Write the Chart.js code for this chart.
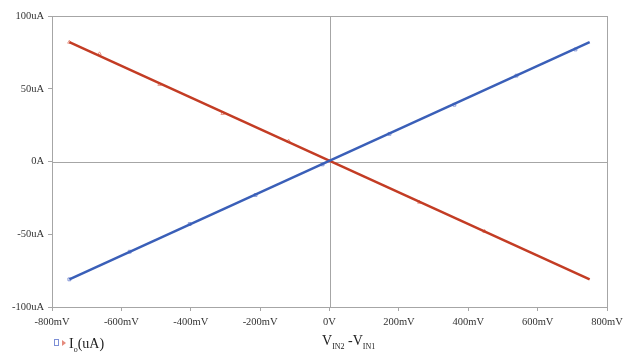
<!DOCTYPE html>
<html>
<head>
<meta charset="utf-8">
<script src="https://cdn.jsdelivr.net/npm/chart.js@4"></script>
<style>
  body { margin: 0; background: #fff; }
  #wrap { position: relative; width: 623px; height: 352px; }
  #xtitle { position: absolute; left: 322px; top: 333px; font: 14px "Liberation Serif", serif; color: #222; white-space: nowrap; }
  #xtitle sub, #legend sub { font-size: 8px; }
  #legend { position: absolute; left: 54px; top: 336px; font: 14px "Liberation Serif", serif; color: #222; white-space: nowrap; }
  .sq { display: inline-block; width: 3px; height: 5px; border: 1px solid #7d8fd6; margin-right: 3px; vertical-align: 2px; }
  .tri { display: inline-block; width: 0; height: 0; border-top: 3px solid transparent; border-bottom: 3px solid transparent; border-left: 4px solid #e58a7c; margin-right: 3px; vertical-align: 2px; }
</style>
</head>
<body>
<div id="wrap">
  <canvas id="chart" width="623" height="352"></canvas>
  <div id="xtitle">V<sub>IN2</sub> -V<sub>IN1</sub></div>
  <div id="legend"><span class="sq"></span><span class="tri"></span>I<sub>o</sub>(uA)</div>
</div>
<script>
// measured points (mV, uA)
var blueX = [-750, -576, -403, -213, -20, 173, 360, 539, 709];
var blueY = [-81, -62, -43, -23, -2, 19, 39, 59, 77];
var redX = [-750, -663, -490, -308, -118, 0, 259, 447];
var redY = [82, 74, 53, 33, 14, 0, -28, -48];
// fitted lines
var fitX = [-750, 750];
var blueFit = [-81, 82];
var redFit = [82, -81];

var xTicks = [-800, -600, -400, -200, 0, 200, 400, 600, 800];
var yTicks = [-100, -50, 0, 50, 100];

function pts(xs, ys) {
  var out = [];
  for (var i = 0; i < xs.length; i++) out.push({x: xs[i], y: ys[i]});
  return out;
}

var frame = {
  id: 'frame',
  beforeDatasetsDraw: function(chart) {
    var a = chart.chartArea, c = chart.ctx;
    var x0 = chart.scales.x.getPixelForValue(0);
    var y0 = chart.scales.y.getPixelForValue(0);
    c.save();
    c.strokeStyle = '#a6a6a6';
    c.lineWidth = 1;
    c.strokeRect(a.left + 0.5, a.top + 0.5, a.right - a.left, a.bottom - a.top);
    c.beginPath();
    c.moveTo(Math.round(x0) + 0.5, a.top);
    c.lineTo(Math.round(x0) + 0.5, a.bottom);
    c.moveTo(a.left, Math.round(y0) + 0.5);
    c.lineTo(a.right, Math.round(y0) + 0.5);
    c.stroke();
    c.restore();
  }
};

var tickFont = {family: '"Liberation Serif", serif', size: 10.5};

new Chart(document.getElementById('chart'), {
  type: 'scatter',
  data: {
    datasets: [
      {data: pts(fitX, blueFit), showLine: true, borderColor: '#3a5fb8', borderWidth: 2.5, pointRadius: 0},
      {data: pts(fitX, redFit), showLine: true, borderColor: '#c33c24', borderWidth: 2.5, pointRadius: 0},
      {data: pts(blueX, blueY), showLine: false, pointStyle: 'rect', pointRadius: 2, borderColor: '#8a9ad8', backgroundColor: 'rgba(255,255,255,0)', borderWidth: 1},
      {data: pts(redX, redY), showLine: false, pointStyle: 'triangle', pointRadius: 2, borderColor: '#e89a8c', backgroundColor: 'rgba(255,255,255,0)', borderWidth: 1}
    ]
  },
  options: {
    responsive: false,
    animation: false,
    layout: {padding: {left: 0, top: 16, right: 16, bottom: 0}},
    plugins: {legend: {display: false}, tooltip: {enabled: false}},
    scales: {
      x: {
        type: 'linear', min: -800, max: 800,
        afterBuildTicks: function(s) { s.ticks = xTicks.map(function(v) { return {value: v}; }); },
        afterFit: function(s) { s.height = 45; s.paddingLeft = 0; s.paddingRight = 0; },
        grid: {drawOnChartArea: false, drawTicks: true, tickLength: 4, color: '#a6a6a6'},
        border: {display: false},
        ticks: {color: '#333', font: tickFont, padding: 5, maxRotation: 0,
          callback: function(v) { return v === 0 ? '0V' : v + 'mV'; }}
      },
      y: {
        type: 'linear', min: -100, max: 100,
        afterBuildTicks: function(s) { s.ticks = yTicks.map(function(v) { return {value: v}; }); },
        afterFit: function(s) { s.width = 52; s.paddingTop = 0; s.paddingBottom = 0; },
        grid: {drawOnChartArea: false, drawTicks: true, tickLength: 4, color: '#a6a6a6'},
        border: {display: false},
        ticks: {color: '#333', font: tickFont, padding: 4,
          callback: function(v) { return v === 0 ? '0A' : v + 'uA'; }}
      }
    }
  },
  plugins: [frame]
});
</script>
</body>
</html>
